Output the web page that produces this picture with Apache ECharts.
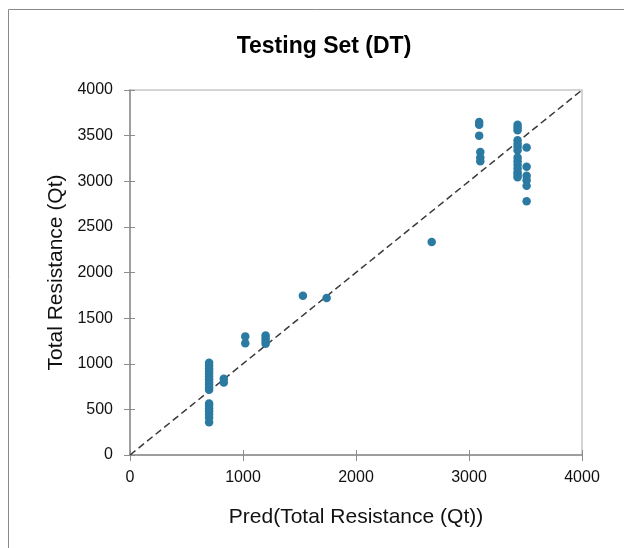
<!DOCTYPE html>
<html>
<head>
<meta charset="utf-8">
<script src="https://cdn.jsdelivr.net/npm/echarts@6/dist/echarts.min.js"></script>
<style>html,body{margin:0;padding:0;background:#fff;}#c{width:624px;height:548px;}</style>
</head>
<body>
<div id="c"></div>
<script>
// Predicted (x) values
const predicted = [
  700,700,700,700,700,700,700,700,700,700,700,
  700,700,700,700,700,700,700,
  830,830,
  1020,1020,
  1200,1200,1200,1200,
  1530,1740,2670,
  3090,3090,3090,3100,3100,3100,
  3430,3430,3430,3430,3430,3430,3430,3430,3430,3430,3430,3430,3430,3430,
  3510,3510,3510,3510,3510,3510
];
// Actual (y) values
const actual = [
  1010,980,950,920,890,860,830,800,770,740,715,
  565,540,510,480,450,410,360,
  835,795,
  1300,1225,
  1310,1280,1250,1220,
  1745,1720,2335,
  3650,3620,3500,3320,3260,3220,
  3620,3590,3560,3450,3410,3380,3340,3260,3220,3180,3140,3100,3070,3045,
  3370,3160,3060,3010,2950,2780
];
const diagonal = [[0,0],[4000,4000]];

const points = predicted.map((p,i)=>[p, actual[i]]);
const font = '"Liberation Sans", Arial, sans-serif';
const axisColor = '#8c8c8c';
const fmt = v => String(v);

const chart = echarts.init(document.getElementById('c'), null, {renderer:'canvas'});
chart.setOption({
  animation:false,
  backgroundColor:'#fff',
  title:{
    text:'Testing Set (DT)', left:319, top:30, textAlign:'center',
    textStyle:{fontFamily:font, fontSize:23, fontWeight:'bold', color:'#000'}
  },
  graphic:[{
    type:'rect', shape:{x:8.5,y:9.5,width:800,height:800},
    style:{fill:'none', stroke:'#8a8a8a', lineWidth:1}, silent:true, z:-10
  }],
  grid:{left:130, right:42, top:90, bottom:93, show:true, borderColor:'#c8c8c8', borderWidth:1.5, backgroundColor:'transparent'},
  xAxis:[{
    type:'value', min:0, max:4000, interval:1000,
    name:'Pred(Total Resistance (Qt))', nameLocation:'middle', nameGap:52,
    nameTextStyle:{fontFamily:font, fontSize:21, color:'#111'},
    axisLine:{show:true, onZero:false, lineStyle:{color:axisColor, width:1.5}},
    axisTick:{show:true, length:6, lineStyle:{color:axisColor, width:1}},
    axisLabel:{fontFamily:font, fontSize:16, color:'#111', margin:15, formatter:fmt},
    splitLine:{show:false}
  },{
    type:'value', min:0, max:4000, interval:1000, position:'bottom',
    axisLine:{show:false}, axisLabel:{show:false}, splitLine:{show:false},
    axisTick:{show:true, inside:true, length:5, lineStyle:{color:axisColor, width:1}}
  }],
  yAxis:[{
    type:'value', min:0, max:4000, interval:500,
    name:'Total Resistance (Qt)', nameLocation:'middle', nameGap:60,
    nameTextStyle:{fontFamily:font, fontSize:21, color:'#111'},
    axisLine:{show:true, onZero:false, lineStyle:{color:axisColor, width:1.5}},
    axisTick:{show:true, length:6, lineStyle:{color:axisColor, width:1}},
    axisLabel:{fontFamily:font, fontSize:16, color:'#111', margin:17, formatter:fmt},
    splitLine:{show:false}
  },{
    type:'value', min:0, max:4000, interval:500, position:'left',
    axisLine:{show:false}, axisLabel:{show:false}, splitLine:{show:false},
    axisTick:{show:true, inside:true, length:5, lineStyle:{color:axisColor, width:1}}
  }],
  series:[{
    type:'line', data:diagonal, symbol:'none', silent:true,
    lineStyle:{color:'#3a3a3a', width:1.5, type:[7,4]}, z:1
  },{
    type:'scatter', data:points, symbolSize:8.5,
    itemStyle:{color:'#2a7aa2', opacity:1}, z:2
  }]
});
</script>
</body>
</html>
